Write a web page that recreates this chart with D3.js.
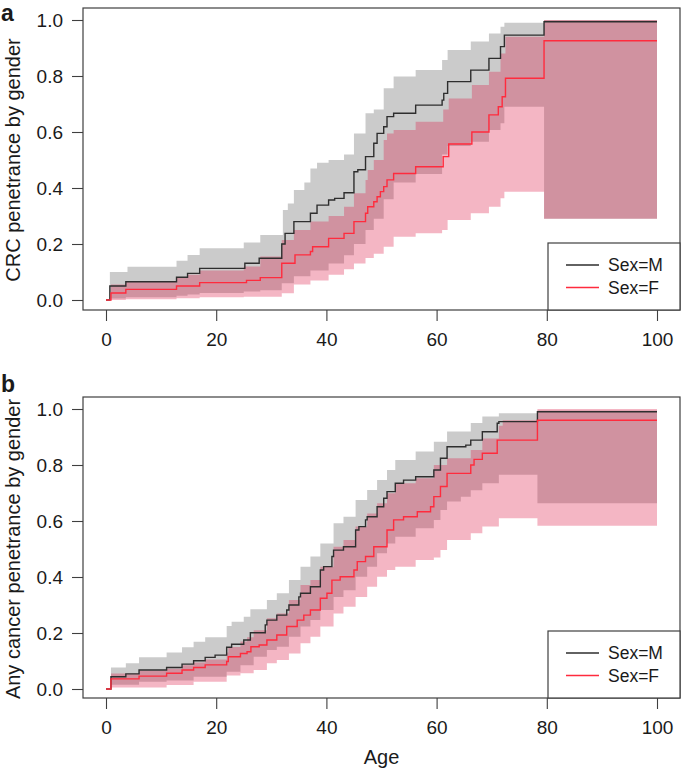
<!DOCTYPE html>
<html>
<head>
<meta charset="utf-8">
<script src="https://cdn.jsdelivr.net/npm/d3@7"></script>
<style>
  html, body { margin: 0; padding: 0; background: #fff; }
  svg { display: block; }
  text { font-family: "Liberation Sans", Arial, Helvetica, sans-serif; fill: #1a1a1a; }
</style>
</head>
<body>
<svg id="chart" width="685" height="768"></svg>
<script>
// ---------- DATA (age, penetrance) step points ----------
const xTicks = [0, 20, 40, 60, 80, 100];
const yTicks = [0, 0.2, 0.4, 0.6, 0.8, 1.0];
const legendLabels = ["Sex=M", "Sex=F"];
const panelLetters = ["a", "b"];
const yTitles = ["CRC penetrance by gender", "Any cancer penetrance by gender"];
const xTitle = "Age";
const maxAge = 100;

// Panel a: CRC
const crcMale = [[0,0],[0.7,0.05],[3.6,0.065],[12.8,0.081],[14.8,0.095],[17,0.113],[25.2,0.131],[27.8,0.149],[31.9,0.2],[32.5,0.238],[34.1,0.28],[37.1,0.31],[38.3,0.339],[40.4,0.357],[41.5,0.363],[43.2,0.383],[45,0.458],[45.7,0.465],[47.1,0.512],[48.6,0.56],[49.2,0.595],[50.4,0.619],[51,0.655],[52.2,0.667],[56.2,0.696],[61,0.714],[61.3,0.738],[62,0.78],[66.2,0.821],[69.5,0.863],[71.6,0.905],[72.3,0.946],[79.5,0.994]];
const crcMaleUpper = [[0,0],[0.7,0.1],[3.9,0.119],[12.8,0.14],[14.8,0.161],[17,0.185],[25,0.205],[28,0.232],[32.1,0.321],[33,0.345],[34.1,0.393],[36,0.42],[37.1,0.47],[38.3,0.49],[40.4,0.5],[43.2,0.52],[45,0.595],[47.1,0.667],[48.6,0.68],[50.4,0.756],[52.2,0.798],[56.2,0.821],[61,0.857],[62,0.893],[66.2,0.923],[69.5,0.952],[71.6,0.976],[72.3,0.99],[79.5,1.0]];
const crcMaleLower = [[0,0],[0.7,0.005],[3.6,0.01],[12.8,0.015],[14.8,0.02],[17,0.025],[25,0.03],[28,0.035],[31.9,0.06],[34.1,0.085],[37.1,0.105],[40.4,0.13],[43.2,0.16],[45,0.2],[47.1,0.25],[48.6,0.29],[50.4,0.36],[52.2,0.42],[56.2,0.45],[61,0.52],[62,0.55],[66.2,0.565],[69.5,0.607],[71.6,0.631],[72.3,0.69],[79.5,0.29]];
const crcFemale = [[0,0],[0.9,0.025],[3.6,0.038],[12.8,0.05],[17,0.062],[25.5,0.07],[28,0.08],[31.9,0.131],[34.3,0.161],[37.1,0.173],[37.5,0.19],[40.4,0.22],[43.2,0.238],[45,0.28],[47.1,0.31],[47.5,0.333],[48.6,0.351],[49.2,0.369],[49.8,0.387],[50.4,0.405],[51,0.429],[52.2,0.452],[56.2,0.476],[61.2,0.512],[62.2,0.557],[66.4,0.6],[69.5,0.661],[71.2,0.69],[71.9,0.726],[72.5,0.792],[79.5,0.926]];
const crcFemaleUpper = [[0,0],[0.9,0.055],[3.6,0.068],[12.8,0.08],[14.8,0.09],[17,0.105],[25,0.12],[28,0.155],[31.9,0.214],[34.1,0.25],[37.1,0.28],[40.4,0.3],[43.2,0.333],[45,0.381],[47.1,0.429],[47.5,0.464],[48.6,0.5],[50.4,0.571],[51,0.595],[52.2,0.607],[56.2,0.637],[61.2,0.68],[62.2,0.72],[66.4,0.768],[69.5,0.815],[71.6,0.88],[72.5,0.94],[79.5,1.0]];
const crcFemaleLower = [[0,0],[3.6,0.003],[12.8,0.006],[17,0.01],[25,0.012],[31.9,0.024],[34.1,0.055],[37.1,0.07],[40.4,0.09],[43.2,0.11],[45,0.13],[47.1,0.15],[48.6,0.165],[50.4,0.19],[52.2,0.226],[56.2,0.238],[61,0.25],[62,0.286],[66.2,0.31],[69.5,0.333],[71.6,0.363],[72.3,0.387],[79.5,0.29]];

// Panel b: any cancer
const anyMale = [[0,0],[0.9,0.044],[3.6,0.054],[6,0.068],[11,0.077],[13.8,0.089],[15.9,0.101],[18,0.113],[19.8,0.121],[21.9,0.149],[22.8,0.16],[25,0.175],[26.2,0.201],[28.9,0.229],[29.2,0.246],[31,0.264],[32.8,0.282],[33.2,0.3],[35,0.329],[35.3,0.342],[37.1,0.365],[38.9,0.425],[39.5,0.437],[41,0.473],[41.3,0.496],[43.1,0.508],[45.3,0.568],[45.9,0.58],[47.1,0.604],[47.4,0.615],[49.2,0.651],[50.4,0.681],[51,0.705],[52.5,0.735],[54,0.746],[56.2,0.758],[59.5,0.782],[60.7,0.824],[61.9,0.865],[65.3,0.871],[66.2,0.889],[68.3,0.919],[71,0.949],[71.3,0.955],[78.3,0.99]];
const anyMaleUpper = [[0,0],[0.9,0.077],[3.6,0.092],[6,0.113],[11,0.13],[13.8,0.149],[15.9,0.169],[18,0.185],[21.9,0.225],[22.8,0.24],[25,0.258],[26.2,0.285],[29.2,0.318],[31,0.342],[33.2,0.389],[35.3,0.437],[37.1,0.473],[38.9,0.52],[41.3,0.592],[43.1,0.615],[45.3,0.675],[47.4,0.711],[49.2,0.746],[51,0.782],[52.5,0.818],[56.2,0.848],[59.5,0.883],[61.9,0.92],[66.2,0.95],[68.3,0.973],[71.3,0.985],[78.3,0.995]];
const anyMaleLower = [[0,0],[0.9,0.015],[6,0.026],[11,0.03],[15.9,0.044],[21.9,0.062],[24.4,0.085],[26.8,0.115],[29.2,0.139],[31,0.151],[33.2,0.187],[35.3,0.223],[37.1,0.246],[38.9,0.282],[41.3,0.329],[43.1,0.353],[45.3,0.401],[47.4,0.437],[49.2,0.485],[51,0.52],[52.5,0.544],[56.2,0.574],[59.5,0.604],[60.7,0.639],[61.9,0.67],[64.4,0.687],[66.2,0.71],[68.3,0.735],[71.3,0.765],[78.3,0.663]];
const anyFemale = [[0,0],[0.9,0.036],[6,0.046],[11,0.056],[13.8,0.068],[15.9,0.077],[18,0.086],[21.9,0.098],[22.2,0.115],[24.4,0.127],[25.6,0.133],[26.3,0.151],[27.8,0.157],[29.2,0.175],[31,0.193],[32.8,0.223],[34.7,0.246],[35.9,0.264],[37.1,0.282],[38.9,0.324],[40.1,0.342],[41,0.389],[42.5,0.401],[45,0.425],[45.6,0.455],[47.1,0.473],[48.6,0.508],[51,0.568],[52.2,0.604],[54,0.615],[56.5,0.633],[58.9,0.651],[59.5,0.687],[60.7,0.723],[61.9,0.77],[66.2,0.8],[66.8,0.82],[68.3,0.842],[71,0.889],[78.3,0.96]];
const anyFemaleUpper = [[0,0],[0.9,0.055],[6,0.065],[11,0.072],[13.8,0.085],[15.9,0.095],[18,0.105],[21.9,0.13],[22.2,0.15],[24.4,0.17],[25.6,0.185],[26.8,0.21],[29.2,0.253],[31,0.27],[33.2,0.318],[35.3,0.371],[37.1,0.389],[38.9,0.437],[41.3,0.508],[43.1,0.532],[45.3,0.58],[47.4,0.627],[49.2,0.663],[51,0.699],[52.5,0.735],[56.2,0.753],[59.5,0.8],[61.9,0.824],[66.2,0.854],[68.3,0.895],[71.3,0.94],[72,0.96],[78.3,1.0]];
const anyFemaleLower = [[0,0],[0.9,0.005],[11,0.014],[15.9,0.026],[21.9,0.048],[24.4,0.056],[26.8,0.068],[29.2,0.092],[31,0.104],[33.2,0.127],[35.3,0.163],[37.1,0.187],[38.9,0.223],[41.3,0.27],[43.1,0.294],[45.3,0.329],[47.4,0.365],[49.2,0.401],[51,0.425],[52.5,0.437],[56.2,0.461],[59.5,0.47],[60.7,0.496],[61.9,0.532],[66.2,0.556],[68.3,0.58],[71.3,0.61],[78.3,0.583]];

// ---------- LAYOUT / STYLE ----------
const svg = d3.select("#chart");
const frameColor = "#3f3f3f";
const maleColor = "#2e2e2e";
const femaleColor = "#ff2b3d";
const maleBand = "#cbcbcb";
const femaleBand = "rgba(220,27,70,0.32)";

const panels = [
  { top: 8, bottom: 310, yRange: [300, 20], letterY: 21,
    male: crcMale, maleLo: crcMaleLower, maleHi: crcMaleUpper,
    female: crcFemale, femaleLo: crcFemaleLower, femaleHi: crcFemaleUpper },
  { top: 397, bottom: 698, yRange: [689, 409], letterY: 392,
    male: anyMale, maleLo: anyMaleLower, maleHi: anyMaleUpper,
    female: anyFemale, femaleLo: anyFemaleLower, femaleHi: anyFemaleUpper }
];
const frameLeft = 83, frameRight = 680;
const x = d3.scaleLinear().domain([0, 100]).range([106, 657]);

function stepFn(pts) {
  return t => {
    let v = pts[0][1];
    for (const p of pts) { if (p[0] <= t) v = p[1]; else break; }
    return v;
  };
}
function bandData(lo, hi) {
  const ts = Array.from(new Set([...lo.map(d => d[0]), ...hi.map(d => d[0]), maxAge])).sort((a, b) => a - b);
  const fl = stepFn(lo), fh = stepFn(hi);
  return ts.map(t => ({ t, lo: fl(t), hi: fh(t) }));
}

panels.forEach((p, i) => {
  const y = d3.scaleLinear().domain([0, 1]).range(p.yRange);
  const g = svg.append("g");

  const area = d3.area().x(d => x(d.t)).y0(d => y(d.lo)).y1(d => y(d.hi)).curve(d3.curveStepAfter);
  const line = d3.line().x(d => x(d[0])).y(d => y(d[1])).curve(d3.curveStepAfter);

  g.append("path").datum(bandData(p.maleLo, p.maleHi)).attr("d", area).attr("fill", maleBand);
  g.append("path").datum(bandData(p.femaleLo, p.femaleHi)).attr("d", area).attr("fill", femaleBand);

  const ext = pts => pts.concat([[maxAge, pts[pts.length - 1][1]]]);
  g.append("path").datum(ext(p.male)).attr("d", line).attr("fill", "none")
    .attr("stroke", maleColor).attr("stroke-width", 1.4);
  g.append("path").datum(ext(p.female)).attr("d", line).attr("fill", "none")
    .attr("stroke", femaleColor).attr("stroke-width", 1.4);

  // frame
  g.append("rect").attr("x", frameLeft).attr("y", p.top)
    .attr("width", frameRight - frameLeft).attr("height", p.bottom - p.top)
    .attr("fill", "none").attr("stroke", frameColor).attr("stroke-width", 1.2);

  // axes
  const yAxis = g.append("g").attr("transform", `translate(${frameLeft},0)`)
    .call(d3.axisLeft(y).tickValues(yTicks).tickFormat(d3.format(".1f")).tickSize(11).tickPadding(9));
  const xAxis = g.append("g").attr("transform", `translate(0,${p.bottom})`)
    .call(d3.axisBottom(x).tickValues(xTicks).tickFormat(d3.format("d")).tickSize(11).tickPadding(12));
  [yAxis, xAxis].forEach(a => {
    a.select(".domain").remove();
    a.selectAll(".tick line").attr("stroke", frameColor).attr("stroke-width", 1.1);
    a.selectAll(".tick text").attr("font-size", 19).attr("fill", "#1a1a1a")
      .style("font-family", '"Liberation Sans", Arial, Helvetica, sans-serif');
  });

  // y title
  const cy = (p.yRange[0] + p.yRange[1]) / 2;
  g.append("text").attr("transform", `translate(19.5,${cy}) rotate(-90)`)
    .attr("text-anchor", "middle").attr("font-size", 20).text(yTitles[i]);

  // panel letter
  g.append("text").attr("x", 1).attr("y", p.letterY).attr("font-size", 23)
    .attr("font-weight", "bold").text(panelLetters[i]);

  // legend
  const lx = 548, ly = p.bottom - 67;
  g.append("rect").attr("x", lx).attr("y", ly).attr("width", frameRight - lx).attr("height", 67)
    .attr("fill", "#fff").attr("stroke", frameColor).attr("stroke-width", 1.2);
  [maleColor, femaleColor].forEach((c, k) => {
    const ry = ly + 22 + k * 22.5;
    g.append("line").attr("x1", 566).attr("x2", 599).attr("y1", ry).attr("y2", ry)
      .attr("stroke", c).attr("stroke-width", 1.4);
    g.append("text").attr("x", 608).attr("y", ry + 6.3).attr("font-size", 17.5).text(legendLabels[k]);
  });
});

// x title
svg.append("text").attr("x", (frameLeft + frameRight) / 2).attr("y", 764)
  .attr("text-anchor", "middle").attr("font-size", 20).text(xTitle);
</script>
</body>
</html>
